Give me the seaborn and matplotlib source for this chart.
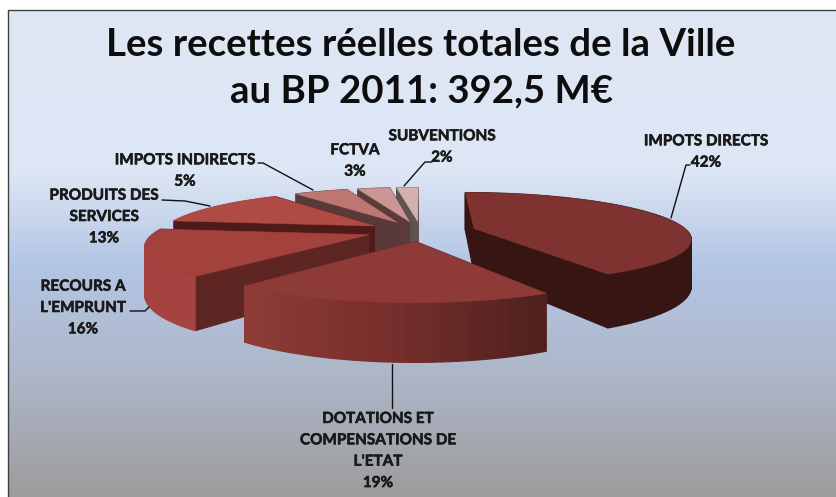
import numpy as np
import matplotlib
matplotlib.use("Agg")
import matplotlib.pyplot as plt
import matplotlib.patheffects as pe
from matplotlib.colors import LinearSegmentedColormap
import seaborn as sns

# Data
labels = ["IMPOTS DIRECTS", "DOTATIONS ET\nCOMPENSATIONS DE\nL'ETAT", "RECOURS A\nL'EMPRUNT",
          "PRODUITS DES\nSERVICES", "IMPOTS INDIRECTS", "FCTVA", "SUBVENTIONS"]
shares = [42, 19, 16, 13, 5, 3, 2]
title = "Les recettes réelles totales de la Ville\nau BP 2011: 392,5 M€"

# Colours of each slice
top_colors = ["#7f3331", "#8e3a37", "#a3413c", "#b04a45", "#bd7672", "#c99694", "#d4b0ae"]
wall_colors = [["#371512"], ["#4f201e", "#772f2c", "#8f3c38"], ["#a4433f"], ["#a4433f"],
               ["#5a3a38"], ["#5c3c3a"], ["#5f5350"]]
cut_colors = ["#371512", "#5e2623", "#5e2623", "#4d1b19", "#5a3a38", "#5c3c3a", "#5f5350"]

# Label placement in pixels
label_pos = [(706, 152), (378, 451), (83, 308), (104, 217), (185, 171), (355, 161), (442, 147)]
leaders = [[(690, 165), (686, 165), (671, 218)],
           [(392, 364), (392, 408)],
           [(130, 311), (145, 311), (149, 307)],
           [(162, 200), (185, 201), (210, 206)],
           [(258, 163), (263, 163), (313, 190)],
           [],
           [(432, 162), (425, 162), (404, 186)]]

# 3D view of the pie
cx, cy = 421, 231
rad_x, rad_y = 213, 44
persp = 0.2
depth = 45
explode_x, explode_y = 0.26, 0.23

sns.set_theme(style="white")
plt.rcParams["font.family"] = ["Lato", "DejaVu Sans"]

fig = plt.figure(figsize=(8.36, 4.97), dpi=100)
ax = fig.add_axes([0, 0, 1, 1])
ax.set_xlim(0, 836)
ax.set_ylim(497, 0)
ax.axis("off")

bg = LinearSegmentedColormap.from_list("bg", [(0, "#dfe7f5"), (0.33, "#dde6f4"), (0.52, "#b4c6e5"),
                                              (0.76, "#adb6c7"), (1, "#9c9c9c")])
ax.imshow(np.linspace(0, 1, 256).reshape(-1, 1), cmap=bg, aspect="auto", extent=(8, 836, 497, 10), zorder=0)
ax.plot([8, 8, 836], [497, 10, 10], color="#404040", lw=1, zorder=1)


def project(x, y, z=0):
    s = 1 / (1 - persp * y)
    return cx + rad_x * x * s, cy + (rad_y * y + depth * z) * s


def quad(x0, y0, x1, y1):
    p = [project(x0, y0), project(x1, y1), project(x1, y1, 1), project(x0, y0, 1)]
    return np.array(p)


angles = np.cumsum([0] + shares) / sum(shares) * 2 * np.pi
zorder = [7, 9, 8, 6, 5, 4, 3]
for i, share in enumerate(shares):
    a0, a1 = angles[i], angles[i + 1]
    mid = (a0 + a1) / 2
    ox, oy = explode_x * np.sin(mid), explode_y * np.cos(mid) * -1
    t = np.linspace(a0, a1, max(int(share * 2), 6) + 1)
    xs = ox + np.sin(t)
    ys = oy - np.cos(t)

    # faces sorted far to near, so the near ones paint over
    wall = sns.blend_palette(wall_colors[i], len(t) - 1) if len(wall_colors[i]) > 1 else wall_colors[i] * (len(t) - 1)
    faces = []
    for k in range(len(t) - 1):
        faces.append(((ys[k] + ys[k + 1]) / 2, quad(xs[k], ys[k], xs[k + 1], ys[k + 1]), wall[k]))
    faces.append(((oy + ys[0]) / 2, quad(ox, oy, xs[0], ys[0]), cut_colors[i]))
    faces.append(((oy + ys[-1]) / 2, quad(ox, oy, xs[-1], ys[-1]), cut_colors[i]))
    faces.sort(key=lambda f: f[0])
    for _, pts, col in faces:
        ax.fill(pts[:, 0], pts[:, 1], color=col, lw=0.9, zorder=zorder[i])

    top = np.array([project(ox, oy)] + [project(x, y) for x, y in zip(xs, ys)])
    ax.fill(top[:, 0], top[:, 1], color=top_colors[i], lw=0.4, zorder=zorder[i])

# a thin stroke to get the heavier weight of the original bold
heavy = [pe.withStroke(linewidth=0.4, foreground="#1a1a1a")]
for name, share, (lx, ly), line in zip(labels, shares, label_pos, leaders):
    ax.text(lx, ly, f"{name}\n{share}%", ha="center", va="center", fontsize=11, fontweight="bold",
            color="#1a1a1a", linespacing=1.67, zorder=12, path_effects=heavy)
    if line:
        ax.plot(*zip(*line), color="#111111", lw=1, zorder=11)

ax.text(421, 68, title, ha="center", va="center", fontsize=27.6, fontweight="bold", color="#0d0d0d",
        linespacing=1.45, zorder=12)

fig.savefig("out.png", dpi=100)
